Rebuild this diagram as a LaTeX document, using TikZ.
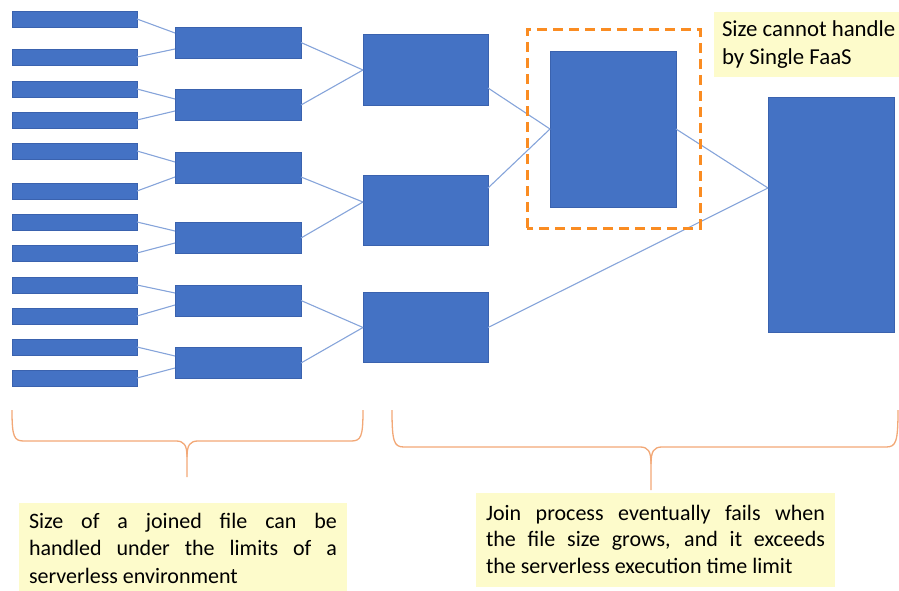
\documentclass[tikz,border=0pt]{standalone}
\usepackage{fontspec}
\setmainfont{Carlito}
\definecolor{bfill}{HTML}{4472C4}
\definecolor{bbord}{HTML}{3A62AE}
\definecolor{lineblue}{HTML}{86A4DA}
\definecolor{braceor}{HTML}{F2A877}
\definecolor{dashor}{HTML}{FA8C22}
\definecolor{noteyel}{HTML}{FDFBCB}
\newcommand{\notefont}{\fontsize{22}{27.5}\selectfont}
\newcommand{\topfont}{\fontsize{22.8}{28}\selectfont}
\begin{document}
\begin{tikzpicture}[x=1pt,y=-1pt,
  blk/.style={draw=bbord, fill=bfill, line width=0.6pt, inner sep=0pt, outer sep=0pt},
  lvA/.style={blk, minimum width=125pt, minimum height=16pt},
  lvB/.style={blk, minimum width=126pt, minimum height=31pt},
  lvC/.style={blk, minimum width=125pt, minimum height=70.5pt},
  conn/.style={draw=lineblue, line width=1.1pt},
  brace/.style={draw=braceor, line width=1.3pt},
  frm/.style={draw=dashor, line width=3pt, dash pattern=on 10pt off 6pt},
  txt/.style={inner sep=0pt, outer sep=0pt, anchor=base west},
]
\useasboundingbox (0,0) rectangle (899,591);
% level 1
\foreach \yy [count=\i] in {19,57,89,120,151,191,222,253,285,316,347,378}
  \node[lvA] (s\i) at (74.5,\yy) {};
% level 2
\foreach \yy [count=\i] in {42.5,105,167.5,238,300.5,363}
  \node[lvB] (m\i) at (238,\yy) {};
% level 3
\foreach \yy [count=\i] in {70,210.5,327.5}
  \node[lvC] (g\i) at (425.5,\yy) {};
% level 4 and 5
\node[blk, minimum width=126pt, minimum height=156pt] (J) at (613,129) {};
\node[blk, minimum width=126pt, minimum height=235pt] (K) at (831,214.5) {};
% connectors level1 -> level2
\draw[conn] (s1.east) -- ([yshift=9.5pt]m1.west);
\draw[conn] (s2.east) -- ([yshift=-6.5pt]m1.west);
\draw[conn] (s3.east) -- ([yshift=6pt]m2.west);
\draw[conn] (s4.east) -- ([yshift=-6pt]m2.west);
\draw[conn] (s5.east) -- ([yshift=5.5pt]m3.west);
\draw[conn] (s6.east) -- ([yshift=-9.5pt]m3.west);
\draw[conn] (s7.east) -- ([yshift=7pt]m4.west);
\draw[conn] (s8.east) -- ([yshift=-5pt]m4.west);
\draw[conn] (s9.east) -- ([yshift=7.5pt]m5.west);
\draw[conn] (s10.east) -- ([yshift=-4.5pt]m5.west);
\draw[conn] (s11.east) -- ([yshift=7pt]m6.west);
\draw[conn] (s12.east) -- ([yshift=-5pt]m6.west);
% level2 -> level3
\draw[conn] (m1.east) -- (g1.west);
\draw[conn] (m2.east) -- (g1.west);
\draw[conn] ([yshift=-9.5pt]m3.east) -- ([yshift=8.5pt]g2.west);
\draw[conn] (m4.east) -- ([yshift=8.5pt]g2.west);
\draw[conn] (m5.east) -- (g3.west);
\draw[conn] (m6.east) -- (g3.west);
% level3 -> J, K
\draw[conn] ([yshift=-18pt]g1.east) -- (J.west);
\draw[conn] ([yshift=22.5pt]g2.east) -- (J.west);
\draw[conn] (g3.east) -- ([yshift=26.5pt]K.west);
\draw[conn] (J.east) -- ([yshift=26.5pt]K.west);
% dashed frame
\draw[frm] (527,228) -- (527,30) -- (700,30) -- (700,228) -- cycle;
% top-right note
\fill[noteyel] (714,12) rectangle (905,77);
\node[txt] (topnote) at (722,37) {\topfont\begin{tabular}[t]{@{}l@{}}Size cannot handle\\by Single FaaS\end{tabular}};
% braces
\draw[brace] (12,410) .. controls (12,437) and (14,441) .. (24,441) -- (176,441)
  .. controls (184,441) and (187,445) .. (187,457) -- (187,477);
\draw[brace] (363,410) .. controls (363,437) and (361,441) .. (351,441) -- (198,441)
  .. controls (190,441) and (187,445) .. (187,457);
\draw[brace] (392,410) .. controls (392,442) and (394,447) .. (404,447) -- (640,447)
  .. controls (648,447) and (651,451) .. (651,464) -- (651,490);
\draw[brace] (898,410) .. controls (898,442) and (896,447) .. (886,447) -- (662,447)
  .. controls (654,447) and (651,451) .. (651,464);
% bottom notes
\fill[noteyel] (19,503) rectangle (347,591);
\node[txt] (leftnote) at (29,528) {\parbox[t]{308pt}{\notefont Size of a joined file can be\linebreak handled under the limits of a\linebreak serverless environment}};
\fill[noteyel] (476,493) rectangle (835,587);
\node[txt] (rightnote) at (486,520) {\parbox[t]{339pt}{\fontsize{22}{26.5}\selectfont Join process eventually fails when\linebreak the file size grows, and it exceeds\linebreak the serverless execution time limit}};
\end{tikzpicture}
\end{document}
